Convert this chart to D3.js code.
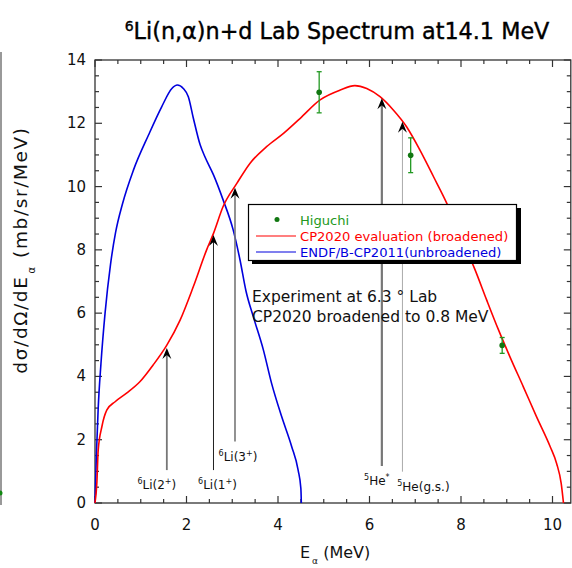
<!doctype html>
<html>
<head>
<meta charset="utf-8">
<script src="https://d3js.org/d3.v7.min.js"></script>
<style>
  body { margin:0; background:#fff; }
  svg { display:block; font-family:"DejaVu Sans", Verdana, sans-serif; }
</style>
</head>
<body>
<svg id="chart" width="572" height="568"></svg>
<script>
// CP2020 evaluation (broadened) - red
var redE = [0, 0.04, 0.07, 0.15, 0.26, 0.44, 0.69, 0.98, 1.27, 1.57, 1.86, 2.15, 2.44, 2.59, 2.80, 3.10, 3.39, 3.75, 4.12, 4.48, 4.92, 5.36, 5.68, 5.94, 6.23, 6.52, 6.81, 7.10, 7.40, 7.69, 8.00, 8.31, 8.56, 8.82, 9.07, 9.36, 9.65, 9.95, 10.09, 10.19, 10.24];
var redV = [0, 0.62, 1.67, 2.41, 2.94, 3.20, 3.47, 3.83, 4.36, 4.99, 5.78, 6.84, 8.0, 8.52, 9.37, 10.1, 10.74, 11.26, 11.68, 12.15, 12.74, 13.05, 13.19, 13.1, 12.84, 12.42, 11.89, 11.16, 10.31, 9.47, 8.40, 7.36, 6.42, 5.47, 4.62, 3.68, 2.73, 1.78, 1.25, 0.62, 0];

// ENDF/B-CP2011 (unbroadened) - blue
var blueE = [0, 0.03, 0.07, 0.13, 0.22, 0.34, 0.45, 0.60, 0.84, 1.17, 1.46, 1.68, 1.80, 1.93, 2.04, 2.15, 2.30, 2.40, 2.59, 2.80, 3.02, 3.17, 3.30, 3.46, 3.68, 3.86, 4.08, 4.30, 4.44, 4.50, 4.51];
var blueV = [0, 1.5, 3.0, 4.4, 6.0, 7.55, 8.55, 9.45, 10.52, 11.63, 12.53, 13.1, 13.21, 13.1, 12.84, 12.16, 11.31, 10.95, 10.37, 9.58, 8.63, 7.68, 6.70, 5.89, 4.84, 3.78, 2.73, 1.78, 1.04, 0.46, 0];

// Higuchi data
var higE = [4.9, 6.9, 8.9];
var higV = [12.98, 10.99, 4.98];
var higErr = [0.65, 0.55, 0.25];

// level arrows
var arrowNames = ["6|Li(2|+|)", "6|Li(1|+|)", "6|Li(3|+|)", "5|He|*|", "5|He(g.s.)||"];
var arrowE = [1.57, 2.59, 3.06, 6.27, 6.72];
var arrowTip = [4.9, 8.47, 9.96, 12.79, 12.05];
var arrowBase = [1.04, 1.04, 1.94, 1.17, 0.99];

var xTicks = [0, 2, 4, 6, 8, 10];
var yTicks = [0, 2, 4, 6, 8, 10, 12, 14];

var svg = d3.select("#chart");
var x = d3.scaleLinear().domain([0, 10.4]).range([95, 570.8]);
var y = d3.scaleLinear().domain([0, 14]).range([503, 60]);

// piece of neighbouring plot at the left edge
svg.append("line").attr("x1", 1).attr("x2", 1).attr("y1", 52).attr("y2", 505)
  .attr("stroke", "#555").attr("stroke-width", 1.2);
svg.append("circle").attr("cx", 0).attr("cy", 493).attr("r", 2.5).attr("fill", "#118811");

// title
var title = svg.append("text").attr("x", 337).attr("y", 39).attr("text-anchor", "middle")
  .attr("font-size", 22.3).attr("fill", "#000").attr("stroke", "#000").attr("stroke-width", 0.4);
title.append("tspan").attr("font-size", 14).attr("dy", -8).text("6");
title.append("tspan").attr("dy", 8).text("Li(n,α)n+d Lab Spectrum at14.1 MeV");

// frame
svg.append("rect").attr("x", x(0)).attr("y", y(14)).attr("width", x(10.4) - x(0)).attr("height", y(0) - y(14))
  .attr("fill", "none").attr("stroke", "#333").attr("stroke-width", 1.3);

// ticks: every 0.5 minor, every 2 major, pointing inward
var minorX = d3.range(0, 10.41, 0.5);
var minorY = d3.range(0, 14.01, 0.5);
var tk = svg.append("g").attr("stroke", "#333").attr("stroke-width", 1.2);
minorX.forEach(function(d) {
  var L = (Math.abs(d % 2) < 1e-6) ? 7 : 4;
  tk.append("line").attr("x1", x(d)).attr("x2", x(d)).attr("y1", y(0)).attr("y2", y(0) - L);
  tk.append("line").attr("x1", x(d)).attr("x2", x(d)).attr("y1", y(14)).attr("y2", y(14) + L);
});
minorY.forEach(function(d) {
  var L = (Math.abs(d % 2) < 1e-6) ? 7 : 4;
  tk.append("line").attr("x1", x(0)).attr("x2", x(0) + L).attr("y1", y(d)).attr("y2", y(d));
  tk.append("line").attr("x1", x(10.4)).attr("x2", x(10.4) - L).attr("y1", y(d)).attr("y2", y(d));
});

svg.append("g").selectAll("text").data(xTicks).enter().append("text")
  .attr("x", function(d) { return x(d); }).attr("y", 530).attr("text-anchor", "middle")
  .attr("font-size", 15).attr("fill", "#111").text(function(d) { return d; });
svg.append("g").selectAll("text").data(yTicks).enter().append("text")
  .attr("x", 86).attr("y", function(d) { return y(d) + 5; }).attr("text-anchor", "end")
  .attr("font-size", 15).attr("fill", "#111").text(function(d) { return d; });

// axis titles
var xl = svg.append("text").attr("x", 300).attr("y", 558).attr("font-size", 16).attr("fill", "#111");
xl.append("tspan").text("E");
xl.append("tspan").attr("font-size", 9).attr("dy", 6).attr("dx", 2).text("α");
xl.append("tspan").attr("dy", -6).text(" (MeV)");

var yl = svg.append("text").attr("transform", "translate(27,250) rotate(-90)")
  .attr("text-anchor", "middle").attr("font-size", 18.5).attr("letter-spacing", 1.6).attr("fill", "#111");
yl.append("tspan").text("dσ/dΩ/dE");
yl.append("tspan").attr("font-size", 10).attr("dy", 8).attr("dx", 2).text("α");
yl.append("tspan").attr("dy", -8).text("  (mb/sr/MeV)");

// curves
var line = d3.line().x(function(d) { return x(d[0]); }).y(function(d) { return y(d[1]); })
  .curve(d3.curveMonotoneX);
svg.append("path").datum(d3.zip(blueE, blueV)).attr("d", line)
  .attr("fill", "none").attr("stroke", "#0000dd").attr("stroke-width", 1.6);
svg.append("path").datum(d3.zip(redE, redV)).attr("d", line)
  .attr("fill", "none").attr("stroke", "#ff0000").attr("stroke-width", 1.6);

// arrows
var arrowColor = ["#777", "#222", "#777", "#777", "#aaa"];
var arrowWidth = [1.8, 1, 1.6, 2.2, 1];
var labelDx = [-10, 4, 3, -5, 21];
var ag = svg.append("g");
arrowE.forEach(function(e, i) {
  var ax = x(e), ty = y(arrowTip[i]), by = y(arrowBase[i]);
  ag.append("line").attr("x1", ax).attr("x2", ax).attr("y1", by).attr("y2", ty + 4)
    .attr("stroke", arrowColor[i]).attr("stroke-width", arrowWidth[i]);
  ag.append("path").attr("d", "M" + ax + "," + ty + " l-4.5,11 l4.5,-4 l4.5,4 z").attr("fill", "#000");
  var parts = arrowNames[i].split("|");
  var t = ag.append("text").attr("x", ax + labelDx[i]).attr("y", by + 19)
    .attr("text-anchor", "middle").attr("font-size", 12).attr("fill", "#111");
  t.append("tspan").attr("font-size", 8).attr("dy", -5).text(parts[0]);
  t.append("tspan").attr("dy", 5).text(parts[1]);
  if (parts[2]) t.append("tspan").attr("font-size", 8).attr("dy", -5).text(parts[2]);
  if (parts[3]) t.append("tspan").attr("dy", 5).text(parts[3]);
});

// Higuchi points
var hg = svg.append("g").attr("stroke", "#229922").attr("stroke-width", 1.3);
higE.forEach(function(e, i) {
  var hx = x(e);
  hg.append("line").attr("x1", hx).attr("x2", hx).attr("y1", y(higV[i] + higErr[i])).attr("y2", y(higV[i] - higErr[i]));
  hg.append("line").attr("x1", hx - 2.5).attr("x2", hx + 2.5).attr("y1", y(higV[i] + higErr[i])).attr("y2", y(higV[i] + higErr[i]));
  hg.append("line").attr("x1", hx - 2.5).attr("x2", hx + 2.5).attr("y1", y(higV[i] - higErr[i])).attr("y2", y(higV[i] - higErr[i]));
});
svg.append("g").selectAll("circle").data(higE).enter().append("circle")
  .attr("cx", function(d) { return x(d); }).attr("cy", function(d, i) { return y(higV[i]); })
  .attr("r", 2.8).attr("fill", "#117711");

// legend with drop shadow
var lg = svg.append("g");
lg.append("rect").attr("x", 252).attr("y", 208).attr("width", 269).attr("height", 56).attr("fill", "#000");
lg.append("rect").attr("x", 248.5).attr("y", 204.5).attr("width", 268).attr("height", 56)
  .attr("fill", "#fff").attr("stroke", "#000").attr("stroke-width", 1.2);
lg.append("circle").attr("cx", 277).attr("cy", 219.5).attr("r", 2.5).attr("fill", "#117711");
lg.append("text").attr("x", 300).attr("y", 225).attr("font-size", 13.1).attr("fill", "#229922").text("Higuchi");
lg.append("line").attr("x1", 256).attr("x2", 296).attr("y1", 236).attr("y2", 236).attr("stroke", "#ff0000").attr("stroke-width", 1.2);
lg.append("text").attr("x", 300).attr("y", 241).attr("font-size", 13.1).attr("fill", "#ff0000").text("CP2020 evaluation (broadened)");
lg.append("line").attr("x1", 256).attr("x2", 296).attr("y1", 252).attr("y2", 252).attr("stroke", "#0000dd").attr("stroke-width", 1.2);
lg.append("text").attr("x", 300).attr("y", 257).attr("font-size", 13.1).attr("fill", "#0000dd").text("ENDF/B-CP2011(unbroadened)");

// annotation
svg.append("text").attr("x", 252).attr("y", 302).attr("font-size", 15.5).attr("fill", "#111").text("Experiment at 6.3 ° Lab");
svg.append("text").attr("x", 252).attr("y", 322).attr("font-size", 15.5).attr("fill", "#111").text("CP2020 broadened to 0.8 MeV");
</script>
</body>
</html>
